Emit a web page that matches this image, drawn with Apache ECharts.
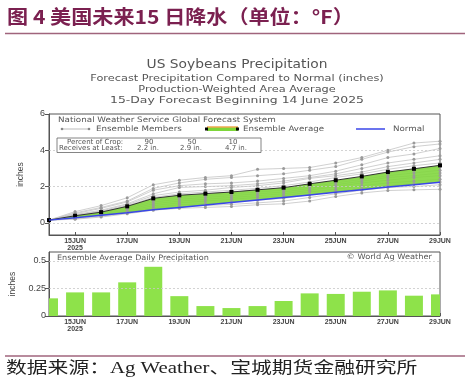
<!DOCTYPE html>
<html>
<head>
<meta charset="utf-8">
<script src="https://cdn.jsdelivr.net/npm/echarts@6/dist/echarts.min.js"></script>
<style>
html,body{margin:0;padding:0;background:#fff;}
#c{width:471px;height:389px;}
</style>
</head>
<body>
<div id="c"></div>
<script>
// ---- data ----
const days = [14,15,16,17,18,19,20,21,22,23,24,25,26,27,28,29];
const xTickDays = [15,17,19,21,23,25,27,29];
const yTicksUpper = [0,2,4,6];
const yTicksLower = [0,0.25,0.5];
const ensembleAverage = [0.15,0.39,0.59,0.91,1.35,1.52,1.61,1.70,1.82,1.94,2.15,2.35,2.56,2.80,2.98,3.17];
const normalPrecip = [0.15,0.28,0.42,0.55,0.72,0.85,0.98,1.12,1.26,1.40,1.54,1.68,1.82,1.97,2.10,2.24];
const dailyPrecip = [0.16,0.214,0.214,0.305,0.446,0.18,0.09,0.072,0.09,0.136,0.205,0.20,0.22,0.232,0.184,0.196];
const member01 = [0.15,0.62,0.95,1.38,2.10,2.35,2.50,2.60,2.95,3.00,3.05,3.30,3.60,4.00,4.40,4.50];
const member02 = [0.15,0.55,0.85,1.20,1.90,2.20,2.40,2.50,2.60,2.70,2.90,3.10,3.50,3.90,4.20,4.35];
const member03 = [0.15,0.50,0.80,1.15,1.80,2.05,2.15,2.20,2.30,2.45,2.60,2.85,3.20,3.60,3.80,4.10];
const member04 = [0.15,0.45,0.70,1.05,1.60,1.95,2.00,2.05,2.15,2.30,2.50,2.70,3.00,3.30,3.50,3.70];
const member05 = [0.15,0.42,0.65,1.00,1.50,1.70,1.80,1.95,2.05,2.20,2.45,2.60,2.80,3.10,3.30,3.50];
const member06 = [0.15,0.40,0.62,0.95,1.40,1.60,1.70,1.80,1.90,2.05,2.25,2.50,2.70,2.95,3.15,3.30];
const member07 = [0.15,0.38,0.58,0.90,1.30,1.50,1.60,1.70,1.80,1.90,2.10,2.30,2.50,2.75,2.90,3.10];
const member08 = [0.15,0.36,0.55,0.85,1.25,1.40,1.50,1.60,1.70,1.80,2.00,2.20,2.40,2.60,2.75,2.90];
const member09 = [0.15,0.33,0.52,0.80,1.15,1.30,1.40,1.50,1.60,1.70,1.90,2.10,2.30,2.50,2.60,2.75];
const member10 = [0.15,0.30,0.48,0.72,1.05,1.20,1.30,1.40,1.50,1.60,1.80,2.00,2.20,2.35,2.50,2.60];
const member11 = [0.15,0.28,0.44,0.65,0.95,1.10,1.20,1.30,1.40,1.50,1.70,1.85,2.05,2.20,2.30,2.40];
const member12 = [0.15,0.25,0.40,0.60,0.85,1.00,1.05,1.15,1.25,1.35,1.55,1.75,1.90,2.05,2.15,2.25];
const member13 = [0.15,0.22,0.36,0.55,0.78,0.88,0.95,1.02,1.10,1.20,1.40,1.60,1.80,1.95,2.00,2.10];
const member14 = [0.15,0.20,0.32,0.50,0.70,0.80,0.85,0.90,1.00,1.05,1.20,1.45,1.65,1.78,1.82,1.85];
const ensembleMembers = [member01,member02,member03,member04,member05,member06,member07,member08,member09,member10,member11,member12,member13,member14];
const cropPercents = ['90','50','10'];
const cropAmounts = ['2.2 in.','2.9 in.','4.7 in.'];

const excess = ensembleAverage.map((v,i)=>v-normalPrecip[i]);

const chart = echarts.init(document.getElementById('c'), null, {renderer:'canvas'});
const gray = '#555';
const fnt = 'DejaVu Sans';
const xLabelFmt = v => Number(v)===15 ? '15JUN\n2025' : v+'JUN';
const isTick = (i,v) => xTickDays.includes(Number(v));
const xLabelStyle = {interval:isTick, formatter:xLabelFmt, color:'#444', fontFamily:'Liberation Sans', fontWeight:'bold', fontSize:7, lineHeight:7, margin:3};

// member lines (behind the green band) and member dots (on top of it)
const memberLines = ensembleMembers.map(m=>({
  type:'line', xAxisIndex:0, yAxisIndex:0, data:m, z:3,
  symbol:'none', lineStyle:{color:'#c4c4c4', width:0.8}, silent:true
}));
const memberDots = ensembleMembers.map(m=>({
  type:'line', xAxisIndex:0, yAxisIndex:0, data:m, z:4.5,
  symbol:'circle', symbolSize:3, showSymbol:true, itemStyle:{color:'#9a9a9a'},
  lineStyle:{width:0}, silent:true
}));

// bars clipped to the plot frame (half bars at both ends)
function renderBar(params, api){
  const idx = api.value(0), val = api.value(1);
  const top = api.coord([idx, val]);
  const base = api.coord([idx, 0]);
  const w = api.size([1, 0])[0] * 0.69;
  const cs = params.coordSys;
  const shape = echarts.graphic.clipRectByRect(
    {x: top[0] - w/2, y: top[1], width: w, height: base[1] - top[1]},
    {x: cs.x, y: cs.y, width: cs.width, height: cs.height});
  return shape && {type:'rect', shape, style:{fill:'#8ee24a'}};
}

const T = (x,y,text,o={}) => ({type:'text', x, y, silent:true, scaleX:o.sx||1, z:o.z||10,
  style:{text, fill:o.fill||'#555', font:o.font||('8px '+fnt), textAlign:o.align||'left', textVerticalAlign:'middle', align:o.align||'left', verticalAlign:'middle'}});

const graphics = [
  T(7,17,'图 4 美国未来15 日降水（单位：°F）',{fill:'#7b2050', font:'bold 19px "Noto Sans CJK SC"', sx:1.11}),
  {type:'line', shape:{x1:5,y1:33.5,x2:465,y2:33.5}, style:{stroke:'#a0647c', lineWidth:1.5}, silent:true},
  T(237,65,'US Soybeans Precipitation',{align:'center', font:'11.5px '+fnt, fill:'#555', sx:1.2}),
  T(237,79,'Forecast Precipitation Compared to Normal (inches)',{align:'center', font:'9px '+fnt, fill:'#555', sx:1.26}),
  T(237,90,'Production-Weighted Area Average',{align:'center', font:'9px '+fnt, fill:'#555', sx:1.26}),
  T(237,101,'15-Day Forecast Beginning 14 June 2025',{align:'center', font:'9px '+fnt, fill:'#555', sx:1.38}),
  // legend
  T(58,120,'National Weather Service Global Forecast System',{font:'7.5px '+fnt, sx:1.17}),
  {type:'line', shape:{x1:61,y1:129,x2:90,y2:129}, style:{stroke:'#aaa', lineWidth:0.8}, silent:true, z:10},
  {type:'circle', shape:{cx:62,cy:129,r:1.3}, style:{fill:'#888'}, silent:true, z:10},
  {type:'circle', shape:{cx:89,cy:129,r:1.3}, style:{fill:'#888'}, silent:true, z:10},
  T(96,129,'Ensemble Members',{font:'7.5px '+fnt, sx:1.16}),
  {type:'rect', shape:{x:207,y:127,width:31,height:4}, style:{fill:'#7ed63a'}, silent:true, z:10},
  {type:'line', shape:{x1:207,y1:127,x2:238,y2:127}, style:{stroke:'#f0a850', lineWidth:1.5}, silent:true, z:10},
  {type:'rect', shape:{x:205,y:127.5,width:3,height:3}, style:{fill:'#000'}, silent:true, z:10},
  {type:'rect', shape:{x:236,y:127.5,width:3,height:3}, style:{fill:'#000'}, silent:true, z:10},
  T(243,129,'Ensemble Average',{font:'7.5px '+fnt, sx:1.16}),
  {type:'line', shape:{x1:356,y1:129,x2:385,y2:129}, style:{stroke:'#3a46e8', lineWidth:1.5}, silent:true, z:10},
  T(393,129,'Normal',{font:'7.5px '+fnt, sx:1.16}),
  {type:'rect', shape:{x:57,y:138,width:204,height:14.5}, style:{fill:'#fff', stroke:'#666', lineWidth:0.8}, silent:true, z:9},
  T(67,142.3,'Percent of Crop:',{font:'7px '+fnt}),
  T(59,148,'Receives at Least:',{font:'7px '+fnt}),
  T(149,142.3,cropPercents[0],{font:'7px '+fnt, align:'center'}),
  T(192,142.3,cropPercents[1],{font:'7px '+fnt, align:'center'}),
  T(233,142.3,cropPercents[2],{font:'7px '+fnt, align:'center'}),
  T(137,148,cropAmounts[0],{font:'7px '+fnt}),
  T(180,148,cropAmounts[1],{font:'7px '+fnt}),
  T(225,148,cropAmounts[2],{font:'7px '+fnt}),
  // lower panel texts
  T(57,258,'Ensemble Average Daily Precipitation',{font:'7.5px '+fnt, sx:1.08}),
  T(432,257,'© World Ag Weather',{font:'7.5px '+fnt, align:'right', sx:1.1}),
  // footer
  {type:'line', shape:{x1:5,y1:356,x2:465,y2:356}, style:{stroke:'#a0647c', lineWidth:1.5}, silent:true},
  T(6,369,'数据来源：Ag Weather、宝城期货金融研究所',{fill:'#222', font:'16px "Liberation Serif", "Noto Sans CJK SC"', sx:1.3})
];

const xCat = gi => ({type:'category', gridIndex:gi, data:days, boundaryGap:false,
  axisLine:{show:true, onZero:false, lineStyle:{color:gray}},
  axisTick:{show:true, inside:true, length:3, interval:isTick, lineStyle:{color:gray}},
  axisLabel:xLabelStyle, splitLine:{show:false}});

const option = {
  animation:false,
  backgroundColor:'#fff',
  grid:[
    {left:49, top:114, width:391, height:121, show:true, borderColor:'#555', borderWidth:1, backgroundColor:'transparent'},
    {left:49, top:252, width:391, height:64, show:true, borderColor:'#555', borderWidth:1, backgroundColor:'transparent'}
  ],
  xAxis:[xCat(0), xCat(1)],
  yAxis:[
    {type:'value', gridIndex:0, min:-0.67, max:6, name:'inches', nameLocation:'middle', nameGap:24,
     nameTextStyle:{color:'#444', fontFamily:'Liberation Sans', fontSize:8.5},
     axisLine:{show:true, lineStyle:{color:gray}},
     axisTick:{show:true, length:4, customValues:yTicksUpper, lineStyle:{color:gray}},
     axisLabel:{customValues:yTicksUpper, color:'#444', fontFamily:'Liberation Sans', fontSize:9, margin:4},
     splitLine:{show:false}},
    {type:'value', gridIndex:1, min:yTicksLower[0], max:0.58, name:'inches', nameLocation:'middle', nameGap:24,
     nameTextStyle:{color:'#444', fontFamily:'Liberation Sans', fontSize:8.5},
     axisLine:{show:true, lineStyle:{color:gray}},
     axisTick:{show:true, length:4, customValues:yTicksLower, lineStyle:{color:gray}},
     axisLabel:{customValues:yTicksLower, showMinLabel:true, color:'#444', fontFamily:'Liberation Sans', fontSize:9, margin:3, formatter:v=>String(v)},
     splitLine:{show:false}}
  ],
  series:[
    {type:'line', name:'normalBase', xAxisIndex:0, yAxisIndex:0, data:normalPrecip, stack:'band',
     symbol:'none', lineStyle:{opacity:0}, z:1, silent:true,
     markLine:{silent:true, symbol:'none', label:{show:false}, lineStyle:{color:'#c8c8c8', type:[2,2], width:0.8},
       data:[{yAxis:0},{yAxis:2},{yAxis:4}]}},
    ...memberLines,
    {type:'line', name:'excess', xAxisIndex:0, yAxisIndex:0, data:excess, stack:'band',
     symbol:'none', lineStyle:{opacity:0}, areaStyle:{color:'#7ed63a', opacity:0.88}, z:4, silent:true},
    ...memberDots,
    {type:'line', name:'Ensemble Average', xAxisIndex:0, yAxisIndex:0, data:ensembleAverage, z:5,
     symbol:'rect', symbolSize:4, itemStyle:{color:'#000'}, lineStyle:{color:'#333', width:1}},
    {type:'line', name:'Normal', xAxisIndex:0, yAxisIndex:0, data:normalPrecip, z:6,
     symbol:'none', lineStyle:{color:'#3a46e8', width:1.5}},
    {type:'line', name:'gridLower', xAxisIndex:1, yAxisIndex:1, data:dailyPrecip, symbol:'none',
     lineStyle:{opacity:0}, silent:true, z:1,
     markLine:{silent:true, symbol:'none', label:{show:false}, lineStyle:{color:'#c8c8c8', type:[2,2], width:0.8},
       data:[{yAxis:0.25},{yAxis:0.5}]}},
    {type:'custom', name:'Daily', xAxisIndex:1, yAxisIndex:1, z:2,
     data:dailyPrecip.map((v,i)=>[i, v]), encode:{x:0, y:1},
     renderItem:renderBar, silent:true}
  ],
  graphic:graphics
};
chart.setOption(option);
</script>
</body>
</html>
